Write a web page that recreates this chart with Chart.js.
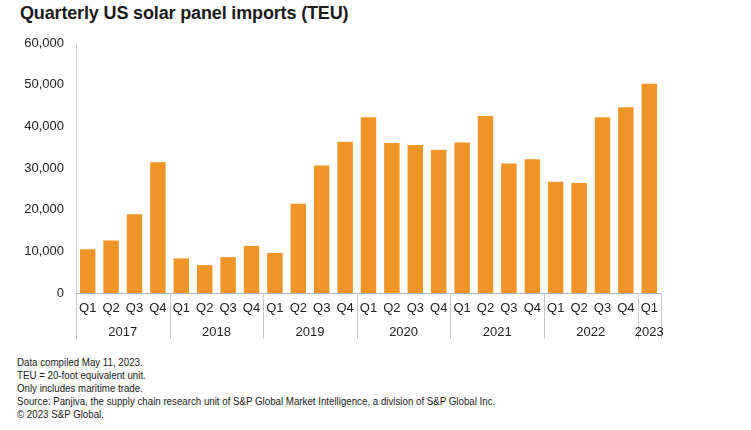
<!DOCTYPE html>
<html><head><meta charset="utf-8">
<script src="https://cdn.jsdelivr.net/npm/chart.js@4/dist/chart.umd.min.js"></script>
<style>
html,body{margin:0;padding:0;background:#fff;width:751px;height:430px;overflow:hidden;}
#title{position:absolute;left:20px;top:3px;font-family:"Liberation Sans",Arial,sans-serif;font-weight:bold;font-size:18px;letter-spacing:-0.15px;color:#1a1a1a;white-space:nowrap;}
#wrap{position:absolute;left:0;top:0;width:751px;height:350px;}
#notes{position:absolute;left:17px;top:356px;font-family:"Liberation Sans",Arial,sans-serif;font-size:11.5px;line-height:12.9px;color:#1a1a1a;white-space:nowrap;transform:scaleX(0.845);transform-origin:0 0;}
</style></head>
<body>
<div id="title">Quarterly US solar panel imports (TEU)</div>
<div id="wrap"><canvas id="c"></canvas></div>
<div id="notes">Data compiled May 11, 2023.<br>TEU = 20-foot equivalent unit.<br>Only includes maritime trade.<br>Source: Panjiva, the supply chain research unit of S&amp;P Global Market Intelligence, a division of S&amp;P Global Inc.<br>© 2023 S&amp;P Global.</div>
<script>
const quarters = ["Q1","Q2","Q3","Q4","Q1","Q2","Q3","Q4","Q1","Q2","Q3","Q4","Q1","Q2","Q3","Q4","Q1","Q2","Q3","Q4","Q1","Q2","Q3","Q4","Q1"];
const years = ["2017","2018","2019","2020","2021","2022","2023"];
const quartersPerYear = [4,4,4,4,4,4,1];
const imports = [10500,12600,18900,31400,8300,6700,8600,11300,9600,21400,30600,36300,42200,36000,35500,34400,36100,42500,31100,32100,26700,26400,42200,44600,50200];

const yearPlugin = {
  id:'years',
  afterDraw(chart){
    const ctx = chart.ctx, x = chart.scales.x, area = chart.chartArea;
    const bottom = 339;
    ctx.save();
    ctx.strokeStyle = '#c9c9c9';
    ctx.lineWidth = 1;
    ctx.font = '13px "Liberation Sans", Arial, sans-serif';
    ctx.fillStyle = '#222';
    ctx.textAlign = 'center';
    ctx.textBaseline = 'middle';
    let idx = 0;
    const half = (x.getPixelForValue(1) - x.getPixelForValue(0))/2;
    years.forEach((y,i)=>{
      const start = x.getPixelForValue(idx) - half;
      const end = x.getPixelForValue(idx + quartersPerYear[i]-1) + half;
      const sx = Math.round(start)+0.5;
      ctx.beginPath(); ctx.moveTo(sx, area.bottom); ctx.lineTo(sx, bottom); ctx.stroke();
      if(i===years.length-1){
        const ex = Math.round(end)+0.5;
        ctx.beginPath(); ctx.moveTo(ex, area.bottom); ctx.lineTo(ex, bottom); ctx.stroke();
      }
      ctx.fillText(y, (start+end)/2, 332);
      idx += quartersPerYear[i];
    });
    ctx.restore();
  }
};

new Chart(document.getElementById('c'), {
  type:'bar',
  data:{labels:quarters, datasets:[{data:imports, backgroundColor:'#EF9528', barPercentage:0.66, categoryPercentage:1}]},
  options:{
    responsive:true, maintainAspectRatio:false, animation:false,
    layout:{padding:{top:43,right:90,left:0,bottom:0}},
    plugins:{legend:{display:false},tooltip:{enabled:false}},
    scales:{
      x:{
        grid:{display:false, drawTicks:false},
        border:{color:'#a9b3bd'},
        ticks:{color:'#222', font:{family:'"Liberation Sans", Arial, sans-serif', size:13}, padding:8, maxRotation:0, autoSkip:false},
        afterFit(s){ s.height = 57; }
      },
      y:{
        min:0,max:60000,
        grid:{display:false, drawTicks:false},
        border:{color:'#cfcfcf'},
        ticks:{stepSize:10000, color:'#222', font:{family:'"Liberation Sans", Arial, sans-serif', size:13}, padding:12,
          callback:v=>v.toLocaleString('en-US')},
        afterFit(s){ s.width = 76; }
      }
    }
  },
  plugins:[yearPlugin]
});
</script>
</body></html>
